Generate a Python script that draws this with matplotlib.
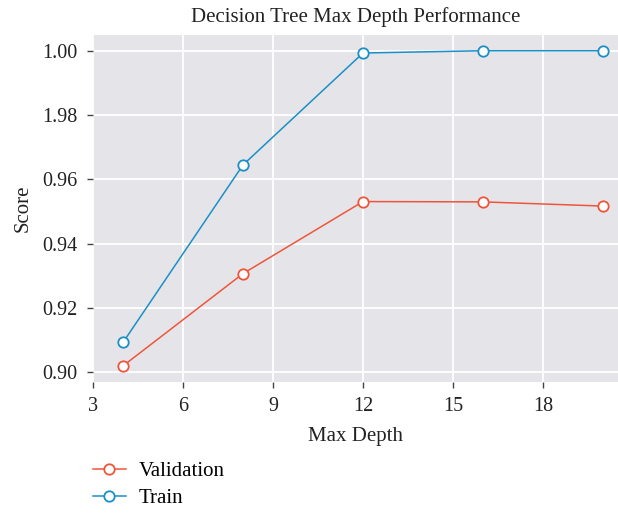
import matplotlib
matplotlib.use("Agg")
from matplotlib import pyplot as plt

# max depth sweep results
depths = [4, 8, 12, 16, 20]
val_scores = [0.9020, 0.9307, 0.9531, 0.9530, 0.9517]
train_scores = [0.9093, 0.9645, 0.9993, 1.0000, 1.0000]

y_ticks = [0.90, 0.92, 0.94, 0.96, 0.98, 1.00]
y_tick_labels = ["0.90", "0.92", "0.94", "0.96", "1.98", "1.00"]
x_ticks = [3, 6, 9, 12, 15, 18]

red = "#EF553B"
blue = "#1A90C6"

plt.rcParams["font.family"] = ["Liberation Serif", "DejaVu Serif"]

fig = plt.figure(figsize=(6.18, 5.13), dpi=100)
ax = fig.add_axes([0.1505, 0.2554, 0.8495, 0.6764])
ax.set_facecolor("#E5E5E9")
for s in ax.spines.values():
	s.set_visible(False)
ax.grid(True, color="white", linewidth=1.3)
ax.set_axisbelow(True)

ax.plot(depths, val_scores, color=red, linewidth=1.1, marker="o", markersize=7.5,
		markerfacecolor="white", markeredgecolor=red, markeredgewidth=1.3, label="Validation")
ax.plot(depths, train_scores, color=blue, linewidth=1.1, marker="o", markersize=7.5,
		markerfacecolor="white", markeredgecolor=blue, markeredgewidth=1.3, label="Train")

ax.set_xlim(3, 20.5)
ax.set_ylim(0.897, 1.0049)
ax.set_xticks(x_ticks)
ax.set_yticks(y_ticks)
ax.set_yticklabels(y_tick_labels)
ax.tick_params(axis="both", colors="#444444", labelcolor="#222222", labelsize=14.5, length=4, width=1, pad=7)

ax.set_title("Decision Tree Max Depth Performance", fontsize=15, color="#222222", pad=9)
ax.set_xlabel("Max Depth", fontsize=15, color="#222222", labelpad=8)
ax.set_ylabel("Score", fontsize=15, color="#222222", labelpad=7)

fig.legend(loc="upper left", bbox_to_anchor=(0.133, 0.12), frameon=False, fontsize=15,
		   handlelength=1.6, labelspacing=0.35, borderpad=0, handletextpad=0.6)

fig.savefig("out.png", dpi=100)
